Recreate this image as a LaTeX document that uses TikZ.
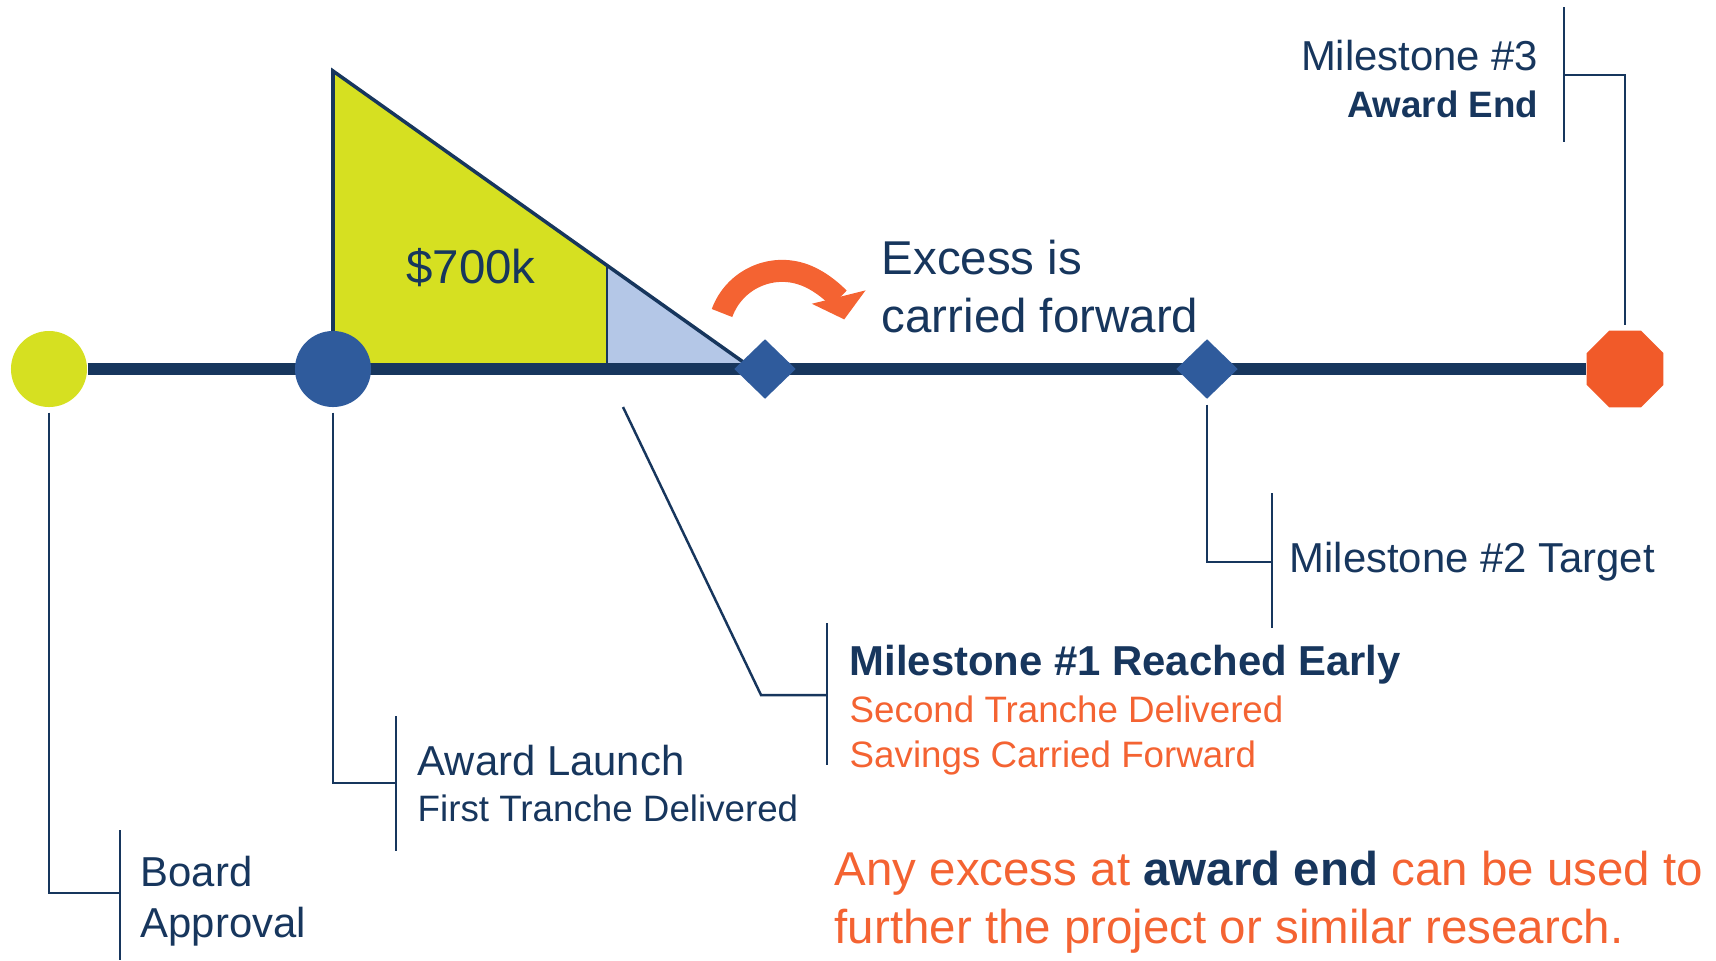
\documentclass[tikz,border=0pt]{standalone}
\usepackage{fontspec}
\setmainfont{Liberation Sans}
\usepackage{tikz}
\usetikzlibrary{shapes,arrows.meta,positioning}

\definecolor{navy}{HTML}{17365D}
\definecolor{lime}{HTML}{D6E021}
\definecolor{midblue}{HTML}{2F5B9C}
\definecolor{paleblue}{HTML}{B4C7E7}
\definecolor{flame}{HTML}{F15A29}
\definecolor{rust}{HTML}{F46332}

\tikzset{
  callout/.style={draw=navy, line width=0.7pt},
  bigtxt/.style={font=\fontsize{13.5}{16}\selectfont, text=navy, inner sep=0pt},
  lbl/.style={font=\fontsize{11.9}{14}\selectfont, text=navy, inner sep=0pt, anchor=base west},
  sublbl/.style={font=\fontsize{10.45}{12}\selectfont, text=navy, inner sep=0pt, anchor=base west},
  mark diamond/.style={diamond, fill=midblue, minimum width=0.62cm, minimum height=0.60cm, inner sep=0pt},
}

\begin{document}
\begin{tikzpicture}[x=0.01cm, y=-0.01cm]
\useasboundingbox (0,0) rectangle (1716,960);

% Budget triangle
\fill[lime] (333,71) -- (607,265) -- (607,369) -- (333,369) -- cycle;
\fill[paleblue] (607,265) -- (746,364) -- (746,369) -- (607,369) -- cycle;
\draw[navy, line width=1pt] (333,369) -- (333,71) -- (746,364);
\draw[navy, line width=0.8pt] (607,265) -- (607,369);
\node[bigtxt, anchor=base] (cash) at (471,283) {\$700k};

% Timeline
\node[circle, fill=lime, minimum size=0.76cm, inner sep=0pt] (appr) at (49,369) {};
\node[regular polygon, regular polygon sides=8, fill=flame, minimum size=0.83cm, inner sep=0pt] (ms3) at (1625,369) {};
\draw[navy, line width=0.12cm] (appr) -- (ms3);

% Milestones
\node[circle, fill=midblue, minimum size=0.76cm, inner sep=0pt] (launch) at (333,369) {};
\node[mark diamond] (ms1) at (765,369) {};
\node[mark diamond] (ms2) at (1207,369) {};

% Carry-over arrow
\draw[rust, line width=0.22cm, -{Triangle[length=0.23cm, width=0.54cm]}] (722,313) arc[start angle=-160, end angle=-14, radius=64];
\node[bigtxt, anchor=base west] (excess1) at (881,274) {Excess is};
\node[bigtxt, anchor=base west] (excess2) at (881,332) {carried forward};

% Brackets
\foreach \x/\ya/\yb in {120/830/960, 396/716/851, 827/623/765, 1272/493/628, 1564/7/142}
    \draw[callout] (\x,\ya) -- (\x,\yb);

% Callouts
\coordinate (bk1) at (120,893);
\coordinate (bk2) at (396,783);
\coordinate (save) at (623,407);
\coordinate (kink) at (761,695);
\coordinate (bk3) at (827,695);
\coordinate (bk4) at (1272,562);
\coordinate (bk5) at (1564,75);
\draw[callout] ([yshift=-0.05cm]appr.south) |- (bk1);
\draw[callout] ([yshift=-0.05cm]launch.south) |- (bk2);
\draw[callout] (save) -- (kink) -- (bk3);
\draw[callout] ([yshift=-0.05cm]ms2.south) |- (bk4);
\draw[callout] ([yshift=0.05cm]ms3.north) |- (bk5);

% Labels
\node[lbl] (board1) at (140,886) {Board};
\node[lbl] (board2) at (140,937) {Approval};
\node[lbl] (launch1) at (417,775) {Award Launch};
\node[sublbl] (launch2) at (417,821) {First Tranche Delivered};
\node[lbl] (early1) at (849,675) {\bfseries Milestone \#1 Reached Early};
\node[sublbl, text=rust] (early2) at (849,722) {Second Tranche Delivered};
\node[sublbl, text=rust] (early3) at (849,767) {Savings Carried Forward};
\node[lbl] (target) at (1289,572) {Milestone \#2 Target};
\node[lbl, anchor=base east] (end1) at (1539,70) {Milestone \#3};
\node[sublbl, anchor=base east] (end2) at (1539,117) {\bfseries Award End};

% Note
\node[bigtxt, text=rust, anchor=base west] (note1) at (834,885) {Any excess at \textcolor{navy}{\bfseries award end} can be used to};
\node[bigtxt, text=rust, anchor=base west] (note2) at (834,943) {further the project or similar research.};

\end{tikzpicture}
\end{document}
